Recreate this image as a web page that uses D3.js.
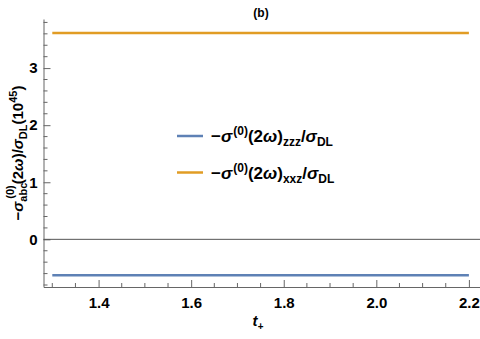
<!DOCTYPE html>
<html>
<head>
<meta charset="utf-8">
<script src="https://cdn.jsdelivr.net/npm/d3@7"></script>
<style>
  body { margin: 0; background: #fff; }
  text { font-family: "Liberation Sans", Arial, sans-serif; }
</style>
</head>
<body>
<div id="chart"></div>
<script>
const tRange = [1.3, 2.2];
const seriesNames = ['zzz', 'xxz'];
const seriesValues = [-0.63, 3.615];
const seriesColors = ['#5e81b5', '#e19c24'];
const xTicks = [1.4, 1.6, 1.8, 2.0, 2.2];
const yTicks = [0, 1, 2, 3];

const width = 480, height = 339;
const margin = [19, 0, 52, 43.5]; // top right bottom left

const svg = d3.select('#chart').append('svg')
  .attr('width', width).attr('height', height);

const scaleX = d3.scaleLinear().domain([1.281, 2.224]).range([margin[3], width - margin[1]]);
const scaleY = d3.scaleLinear().domain([-0.835, 3.86]).range([height - margin[2], margin[0]]);

const axisCol = '#666';

// minor ticks
const minorX = d3.range(1.3, 2.2001, 0.05).filter(v => !xTicks.some(t => Math.abs(t - v) < 1e-6));
const minorY = d3.range(-0.8, 3.8001, 0.2).filter(v => !yTicks.some(t => Math.abs(t - v) < 1e-6));

const axisX = svg.append('g')
  .attr('transform', `translate(0,${scaleY.range()[0]})`)
  .call(d3.axisBottom(scaleX).tickValues(xTicks).tickFormat(d3.format('.1f')).tickSize(7).tickSizeOuter(0));
axisX.append('g').selectAll('line').data(minorX).join('line')
  .attr('x1', d => scaleX(d)).attr('x2', d => scaleX(d))
  .attr('y1', 0).attr('y2', -4).attr('stroke', axisCol);

const axisY = svg.append('g')
  .attr('transform', `translate(${margin[3]},0)`)
  .call(d3.axisLeft(scaleY).tickValues(yTicks).tickFormat(d3.format('d')).tickSize(7).tickSizeOuter(0));
axisY.append('g').selectAll('line').data(minorY).join('line')
  .attr('y1', d => scaleY(d)).attr('y2', d => scaleY(d))
  .attr('x1', 0).attr('x2', 4).attr('stroke', axisCol);

[axisX, axisY].forEach(a => {
  a.select('.domain').attr('stroke', axisCol);
  a.selectAll('.tick line').attr('stroke', axisCol);
  a.selectAll('.tick text').attr('fill', '#000').style('font-size', '15px').style('font-weight', 'bold');
});
axisX.selectAll('.tick line').attr('y2', -7);
axisX.selectAll('.tick text').attr('y', 10);
axisY.selectAll('.tick line').attr('x2', 7);
axisY.selectAll('.tick text').attr('x', -6);

// zero line
svg.append('line')
  .attr('x1', scaleX.range()[0]).attr('x2', scaleX.range()[1])
  .attr('y1', scaleY(0)).attr('y2', scaleY(0))
  .attr('stroke', '#555').attr('stroke-width', 1);

// series
seriesValues.forEach((v, i) => {
  svg.append('path')
    .datum(tRange.map(t => [t, v]))
    .attr('d', d3.line().x(d => scaleX(d[0])).y(d => scaleY(d[1])))
    .attr('stroke', seriesColors[i]).attr('stroke-width', 2.5).attr('fill', 'none');
});

// title
svg.append('text').attr('x', 261).attr('y', 17).attr('text-anchor', 'middle')
  .style('font-size', '12px').style('font-weight', 'bold').text('(b)');

// legend
const legend = svg.append('g');
seriesNames.forEach((name, i) => {
  const y = 136 + i * 36.5;
  legend.append('line').attr('x1', 177).attr('x2', 203).attr('y1', y).attr('y2', y)
    .attr('stroke', seriesColors[i]).attr('stroke-width', 2.5);
  const t = legend.append('text').attr('x', 211).attr('y', y + 6)
    .style('font-size', '17px').style('font-weight', 'bold');
  t.append('tspan').text('−');
  t.append('tspan').style('font-style', 'italic').text('σ');
  t.append('tspan').attr('dy', -7).attr('dx', 1).style('font-size', '12px').text('(0)');
  t.append('tspan').attr('dy', 7).text('(2');
  t.append('tspan').style('font-style', 'italic').text('ω');
  t.append('tspan').text(')');
  t.append('tspan').attr('dy', 4).style('font-size', '12px').text(name);
  t.append('tspan').attr('dy', -4).text('/');
  t.append('tspan').style('font-style', 'italic').text('σ');
  t.append('tspan').attr('dy', 4).style('font-size', '12px').text('DL');
});

// y label, built left to right then centred on the axis
const yl = svg.append('text')
  .style('font-size', '15px').style('font-weight', 'bold');
yl.append('tspan').text('−');
yl.append('tspan').style('font-style', 'italic').text('σ');
const sub = yl.append('tspan').attr('dy', 4).style('font-size', '11px').text('abc');
const subW = sub.node().getComputedTextLength();
yl.append('tspan').attr('dy', -13).attr('dx', -subW + 3).style('font-size', '11px').text('(0)');
yl.append('tspan').attr('dy', 9).attr('dx', 1).text('(2');
yl.append('tspan').style('font-style', 'italic').text('ω');
yl.append('tspan').text(')/');
yl.append('tspan').style('font-style', 'italic').text('σ');
yl.append('tspan').attr('dy', 4).style('font-size', '11px').text('DL');
yl.append('tspan').attr('dy', -4).text('(10');
yl.append('tspan').attr('dy', -6).style('font-size', '11px').text('45');
yl.append('tspan').attr('dy', 6).text(')');
const ylW = yl.node().getBBox().width;
yl.attr('transform', `translate(23,${153 + ylW / 2})rotate(-90)`);

// x label
const xl = svg.append('text').attr('x', 258).attr('y', 326).attr('text-anchor', 'middle')
  .style('font-size', '15px').style('font-weight', 'bold').style('font-style', 'italic');
xl.append('tspan').text('t');
xl.append('tspan').attr('dy', 4).style('font-size', '10px').text('+');
</script>
</body>
</html>
